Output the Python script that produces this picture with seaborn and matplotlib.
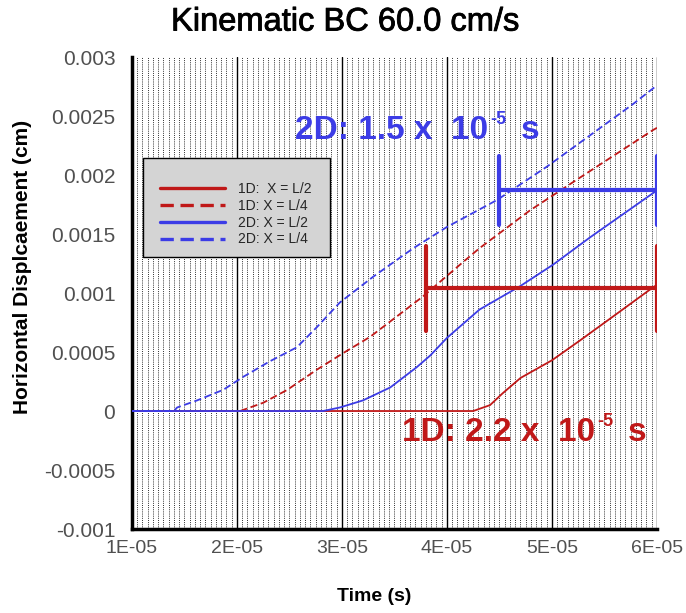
import numpy as np
import pandas as pd
import matplotlib
matplotlib.use("Agg")
import matplotlib.pyplot as plt
import matplotlib.patheffects as pe
import seaborn as sns
from matplotlib.ticker import MultipleLocator, FixedLocator, FixedFormatter
from matplotlib.patches import Rectangle
from matplotlib.lines import Line2D

sns.set_theme(style="white")
plt.rcParams["font.family"] = ["Liberation Sans", "DejaVu Sans"]

# ---- data (time in units of 1e-5 s, displacement in cm) ----
t_1d_half = [1.0, 4.25, 4.41, 4.53, 4.70, 5.00, 5.27, 5.58, 5.95, 6.00]
d_1d_half = [0.0, 0.0, 0.00005, 0.00015, 0.00028, 0.00043, 0.00060, 0.00080, 0.00104, 0.00107]

t_1d_quarter = [1.0, 2.03, 2.25, 2.48, 2.76, 3.01, 3.27, 3.52, 3.77, 4.15, 4.31, 4.79, 5.27, 5.96, 6.00]
d_1d_quarter = [0.0, 0.0, 0.00007, 0.00018, 0.00035, 0.00049, 0.00063, 0.00080, 0.00097, 0.00126,
                0.00138, 0.00170, 0.00198, 0.00238, 0.00240]

t_2d_half = [1.0, 2.82, 2.98, 3.20, 3.46, 3.71, 3.84, 4.00, 4.31, 4.70, 5.01, 5.36, 5.60, 6.00]
d_2d_half = [0.0, 0.0, 0.00003, 0.00009, 0.00020, 0.00037, 0.00047, 0.00062, 0.00086, 0.00106,
             0.00124, 0.00147, 0.00162, 0.00187]

t_2d_quarter = [1.0, 1.40, 1.43, 1.62, 1.87, 2.06, 2.31, 2.57, 2.76, 2.98, 3.30, 3.68, 4.00, 4.48,
                4.95, 5.43, 5.77, 6.00]
d_2d_quarter = [0.0, 0.0, 0.00003, 0.00009, 0.00018, 0.00029, 0.00042, 0.00054, 0.00071, 0.00092,
                0.00114, 0.00138, 0.00156, 0.00179, 0.00207, 0.00238, 0.00260, 0.00276]

series_labels = ["1D:  X = L/2", "1D: X = L/4", "2D: X = L/2", "2D: X = L/4"]

# arrival-time markers: (start time, end time, level)
delay_2d = [4.5, 6.0, 0.00187]
delay_1d = [3.8, 6.0, 0.00104]
# label pieces: base, exponent, unit
delay_2d_text = ["2D: 1.5 x  10", "-5", "s"]
delay_1d_text = ["1D: 2.2 x  10", "-5", "s"]

x_ticks = [1.0, 2.0, 3.0, 4.0, 5.0, 6.0]
x_tick_labels = ["1E-05", "2E-05", "3E-05", "4E-05", "5E-05", "6E-05"]
y_ticks = [-0.001, -0.0005, 0.0, 0.0005, 0.001, 0.0015, 0.002, 0.0025, 0.003]
y_tick_labels = ["-0.001", "-0.0005", "0", "0.0005", "0.001", "0.0015", "0.002", "0.0025", "0.003"]

SCALE = 1e-5

frames = []
for lab, t, d in zip(series_labels,
                     [t_1d_half, t_1d_quarter, t_2d_half, t_2d_quarter],
                     [d_1d_half, d_1d_quarter, d_2d_half, d_2d_quarter]):
    frames.append(pd.DataFrame({"time": np.array(t) * SCALE, "disp": d, "series": lab}))
df = pd.concat(frames, ignore_index=True)

RED = "#c01818"
BLUE = "#3c3ce6"
palette = {series_labels[0]: RED, series_labels[1]: RED,
           series_labels[2]: BLUE, series_labels[3]: BLUE}
dashes = {series_labels[0]: "", series_labels[1]: (4, 2),
          series_labels[2]: "", series_labels[3]: (4, 2)}

fig = plt.figure(figsize=(6.86, 6.13), dpi=100)
ax = fig.add_axes([0.1924, 0.137, 0.7653, 0.770])
ax.set_facecolor("white")

sns.lineplot(data=df, x="time", y="disp", hue="series", style="series",
             palette=palette, dashes=dashes, linewidth=1.3, sort=False,
             estimator=None, legend=False, ax=ax, zorder=4)

# axes limits and ticks
ax.set_xlim(x_ticks[0] * SCALE, x_ticks[-1] * SCALE)
ax.set_ylim(y_ticks[0], y_ticks[-1])
ax.xaxis.set_major_locator(FixedLocator(np.array(x_ticks) * SCALE))
ax.xaxis.set_major_formatter(FixedFormatter(x_tick_labels))
ax.xaxis.set_minor_locator(MultipleLocator(0.05 * SCALE))
ax.yaxis.set_major_locator(FixedLocator(y_ticks))
ax.yaxis.set_major_formatter(FixedFormatter(y_tick_labels))
ax.yaxis.set_minor_locator(MultipleLocator(0.000125))

# vertical grid: solid at majors, dotted at minors
ax.grid(False)
ax.xaxis.grid(True, which="major", color="black", linewidth=1.0, linestyle="-", zorder=1)
ax.xaxis.grid(True, which="minor", color="#303030", linewidth=0.7, linestyle=(0, (1, 1.2)),
              zorder=1)
ax.set_axisbelow(True)

for side in ["top", "right"]:
    ax.spines[side].set_visible(False)
for side in ["left", "bottom"]:
    ax.spines[side].set_color("black")
    ax.spines[side].set_linewidth(2.5)

ax.tick_params(axis="both", which="both", direction="in", top=False, right=False,
               colors="black", labelcolor="#505050")
ax.tick_params(axis="y", which="major", length=9, width=2.2, labelsize=15, pad=12)
ax.tick_params(axis="y", which="minor", length=6, width=1.6)
ax.tick_params(axis="x", which="major", length=8, width=2.0, labelsize=14, pad=8)
ax.tick_params(axis="x", which="minor", length=4, width=1.2)

# delay markers
for (t0, t1, lev), col, half in [(delay_2d, BLUE, 0.00029), (delay_1d, RED, 0.00036)]:
    ax.plot([t0 * SCALE, t1 * SCALE], [lev, lev], color=col, linewidth=3, zorder=5)
    ax.plot([t0 * SCALE, t0 * SCALE], [lev - half, lev + half], color=col, linewidth=3, zorder=5)
    ax.plot([t1 * SCALE, t1 * SCALE], [lev - half, lev + half], color=col, linewidth=3, zorder=5)


def delay_label(x, y, pieces, color):
    base, expo, unit = pieces
    t_base = ax.text(x, y, base, color=color, fontsize=24, fontweight="bold",
                     ha="left", va="center", zorder=6)
    t_exp = ax.annotate(expo, xy=(1, 1), xycoords=t_base, xytext=(2, 3),
                        textcoords="offset points", color=color, fontsize=13,
                        fontweight="bold", ha="left", va="top", zorder=6)
    ax.annotate(unit, xy=(1, 0), xycoords=(t_exp, t_base), xytext=(10, 0),
                textcoords="offset points", color=color, fontsize=24,
                fontweight="bold", ha="left", va="bottom", zorder=6)


delay_label(2.55 * SCALE, 0.00238, delay_2d_text, BLUE)
delay_label(3.57 * SCALE, -0.00018, delay_1d_text, RED)

# legend in a grey box
ax.add_patch(Rectangle((0.021, 0.576), 0.356, 0.210, transform=ax.transAxes,
                       facecolor="#d4d4d4", edgecolor="black", linewidth=1.0, zorder=7))
handles = [Line2D([], [], color=palette[l], linewidth=2.4,
                  linestyle="-" if dashes[l] == "" else (0, (4, 2)))
           for l in series_labels]
leg = ax.legend(handles, series_labels, loc="upper left", bbox_to_anchor=(0.053, 0.735),
                frameon=False, fontsize=10, handlelength=4.7, handletextpad=0.9,
                labelspacing=0.2, borderaxespad=0, borderpad=0)
leg.set_zorder(8)

ax.set_xlabel("Time (s)", fontsize=14, fontweight="bold", color="black", va="center")
ax.xaxis.set_label_coords(0.461, -0.144)
ax.set_ylabel("Horizontal Displcaement (cm)", fontsize=15, fontweight="bold",
              color="black", va="center")
ax.yaxis.set_label_coords(-0.209, 0.555)

fig.text(0.503, 0.964, "Kinematic BC 60.0 cm/s", fontsize=23.5, ha="center", va="center",
         color="black", path_effects=[pe.withStroke(linewidth=0.6, foreground="black")])

fig.savefig("out.png", dpi=100, facecolor="white")
